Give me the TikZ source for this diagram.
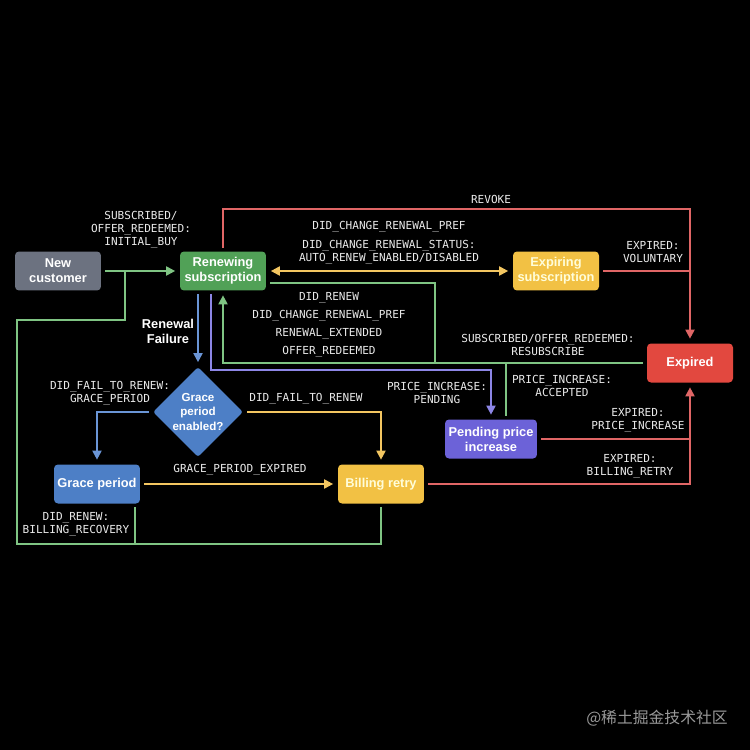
\documentclass[tikz,border=0pt]{standalone}
\usepackage{fontspec}
\setmainfont{Liberation Sans}
\setmonofont{DejaVu Sans Mono}
\newfontfamily\cjk{Noto Sans CJK SC}
\usetikzlibrary{shapes.geometric, arrows.meta, positioning, calc}
\definecolor{nodegrey}{HTML}{6C7280}
\definecolor{nodegreen}{HTML}{51A157}
\definecolor{nodeyellow}{HTML}{F2C144}
\definecolor{nodered}{HTML}{E2483F}
\definecolor{nodeblue}{HTML}{4D7FC6}
\definecolor{nodepurple}{HTML}{6C62D8}
\definecolor{lgreen}{HTML}{7FC483}
\definecolor{lred}{HTML}{E06666}
\definecolor{lyellow}{HTML}{F3C661}
\definecolor{lblue}{HTML}{6A95D6}
\definecolor{lpurple}{HTML}{8D86E6}

\begin{document}
\begin{tikzpicture}[
    x=0.02cm, y=-0.02cm,
    every node/.style={font=\fontsize{7.3}{8.5}\selectfont\bfseries, text=white},
    state/.style={rounded corners=0.08cm, minimum width=1.72cm, minimum height=0.78cm, align=center, inner sep=1pt},
    decide/.style={diamond, fill=nodeblue, minimum width=1.8cm, minimum height=1.8cm, inner sep=0pt, align=center, rounded corners=0.05cm, font=\fontsize{6.6}{8}\selectfont\bfseries},
    tlbl/.style={font=\fontsize{6.3}{7.4}\selectfont\ttfamily, text=white!92!black, align=center},
    conn/.style={line width=1.1pt, line cap=rect},
    arr/.style={conn, -{Triangle[length=0.18cm, width=0.18cm]}},
    gap/.style={shorten <=0.09cm},
    gapend/.style={shorten >=0.09cm}
]
    % background and frame of the page
    \fill[black] (0,0) rectangle (750,750);

    % states
    \node[state, fill=nodegrey] (nc) at (58,271) {New\\customer};
    \node[state, fill=nodegreen] (rs) at (223,271) {Renewing\\subscription};
    \node[state, fill=nodeyellow, text=white!85!yellow] (es) at (556,271) {Expiring\\subscription};
    \node[state, fill=nodered] (ex) at (690,363) {Expired};
    \node[decide] (gd) at (198,412) {Grace\\period\\enabled?};
    \node[state, fill=nodeblue] (gp) at (97,484) {Grace period};
    \node[state, fill=nodeyellow, text=white!85!yellow] (br) at (381,484) {Billing retry};
    \node[state, fill=nodepurple, minimum width=1.84cm] (pp) at (491,439) {Pending price\\increase};

    % join points
    \coordinate (jn) at (125,271);
    \coordinate (jv) at (690,209);
    \coordinate (jr) at (435,0 |- ex.west);

    % new customer -> renewing, billing recovery back
    \draw[arr, lgreen, gap, gapend] (nc.east) -- (rs.west);
    \draw[conn, lgreen, gap] (br.south) |- (17,544) |- (125,320) -- (jn);
    \draw[conn, lgreen, gap] ([xshift=-0.1cm]gp.south east) -- ++(0,40);
    \node[tlbl] at (141,230) {SUBSCRIBED/\\OFFER\_REDEEMED:\\INITIAL\_BUY};
    \node[tlbl] at (76,524) {DID\_RENEW:\\BILLING\_RECOVERY};

    % revoke and voluntary expiry
    \draw[arr, lred, gap, gapend] (rs.north) |- (jv) -- (ex.north);
    \node[tlbl] at (491,199) {REVOKE};
    \draw[conn, lred, gap] (es.east) -- (es.east -| ex.north);
    \node[tlbl] at (653,252) {EXPIRED:\\VOLUNTARY};

    % renewal preference changes
    \draw[conn, lyellow, gap, gapend, {Triangle[length=0.18cm, width=0.18cm]}-{Triangle[length=0.18cm, width=0.18cm]}] (rs.east) -- (es.west);
    \node[tlbl] at (389,227) {DID\_CHANGE\_RENEWAL\_PREF};
    \node[tlbl] at (389,252) {DID\_CHANGE\_RENEWAL\_STATUS:\\AUTO\_RENEW\_ENABLED/DISABLED};

    % renewal failure
    \draw[arr, lblue, gap, gapend] (gd.north |- rs.south) -- (gd.north);
    \node[align=center] at (168,331) {Renewal\\Failure};

    % price increase pending
    \draw[arr, lpurple, gap, gapend] ([xshift=-0.24cm]rs.south) -- ++(0,79) -| (pp.north);
    \node[tlbl] at (437,393) {PRICE\_INCREASE:\\PENDING};

    % back to renewing
    \draw[arr, lgreen, gap, gapend] (ex.west) -| (rs.south);
    \draw[conn, lgreen, gap] ([yshift=-0.24cm]rs.east) -| (jr);
    \draw[conn, lgreen, gap] ([xshift=0.3cm]pp.north) -- ([xshift=0.3cm]pp.north |- ex.west);
    \node[tlbl] at (329,298) {DID\_RENEW};
    \node[tlbl] at (329,316) {DID\_CHANGE\_RENEWAL\_PREF};
    \node[tlbl] at (329,334) {RENEWAL\_EXTENDED};
    \node[tlbl] at (329,352) {OFFER\_REDEEMED};
    \node[tlbl] at (548,345) {SUBSCRIBED/OFFER\_REDEEMED:\\RESUBSCRIBE};
    \node[tlbl] at (562,386) {PRICE\_INCREASE:\\ACCEPTED};

    % grace period decision
    \draw[arr, lblue, gap, gapend] (gd.west) -| (gp.north);
    \node[tlbl] at (110,393) {DID\_FAIL\_TO\_RENEW:\\GRACE\_PERIOD};
    \draw[arr, lyellow, gap, gapend] (gd.east) -| (br.north);
    \node[tlbl] at (306,399) {DID\_FAIL\_TO\_RENEW};
    \draw[arr, lyellow, gap, gapend] (gp.east) -- (br.west);
    \node[tlbl] at (240,470) {GRACE\_PERIOD\_EXPIRED};

    % expiry from billing retry and price increase
    \draw[arr, lred, gap, gapend] (br.east) -| (ex.south);
    \draw[conn, lred, gap] (pp.east) -- (pp.east -| ex.south);
    \node[tlbl] at (638,420) {EXPIRED:\\PRICE\_INCREASE};
    \node[tlbl] at (630,466) {EXPIRED:\\BILLING\_RETRY};

    % watermark
    \node[font=\fontsize{9}{10}\selectfont\cjk, text=black!40!white] (wm) at (657,718) {@稀土掘金技术社区};
\end{tikzpicture}
\end{document}
